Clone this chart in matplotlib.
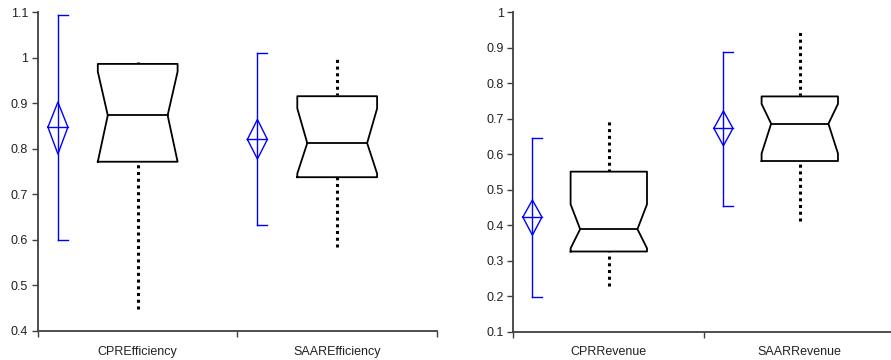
import matplotlib.pyplot as plt

plt.rcParams['font.family'] = ['Liberation Sans', 'DejaVu Sans']

# left panel: efficiency
eff_names = ["CPREfficiency", "SAAREfficiency"]
eff_mean = [0.848, 0.821]
eff_ci_lo = [0.789, 0.778]
eff_ci_hi = [0.903, 0.865]
eff_err_lo = [0.600, 0.632]
eff_err_hi = [1.095, 1.010]
eff_q1 = [0.772, 0.738]
eff_med = [0.874, 0.813]
eff_q3 = [0.987, 0.916]
eff_notch_lo = [0.772, 0.746]
eff_notch_hi = [0.970, 0.889]
eff_wlo = [0.448, 0.585]
eff_whi = [0.992, 1.000]

# right panel: revenue
rev_names = ["CPRRevenue", "SAARRevenue"]
rev_mean = [0.423, 0.673]
rev_ci_lo = [0.372, 0.624]
rev_ci_hi = [0.471, 0.722]
rev_err_lo = [0.198, 0.453]
rev_err_hi = [0.647, 0.888]
rev_q1 = [0.326, 0.581]
rev_med = [0.389, 0.686]
rev_q3 = [0.551, 0.763]
rev_notch_lo = [0.335, 0.602]
rev_notch_hi = [0.459, 0.742]
rev_wlo = [0.230, 0.413]
rev_whi = [0.700, 0.952]

BLUE = "#0000ff"
GRAY = "#404040"


def draw_panel(ax, names, mean, ci_lo, ci_hi, err_lo, err_hi,
               q1, med, q3, nlo, nhi, wlo, whi, ylim):
    for i in range(len(names)):
        c = i + 1
        # mean diamond with error bar
        dx = c - 0.4
        ax.plot([dx, dx], [err_lo[i], err_hi[i]], color=BLUE, lw=1)
        ax.plot([dx, dx + 0.05], [err_hi[i], err_hi[i]], color=BLUE, lw=1)
        ax.plot([dx, dx + 0.05], [err_lo[i], err_lo[i]], color=BLUE, lw=1)
        ax.plot([dx - 0.05, dx, dx + 0.05, dx, dx - 0.05],
                [mean[i], ci_hi[i], mean[i], ci_lo[i], mean[i]], color=BLUE, lw=1)
        ax.plot([dx - 0.05, dx + 0.05], [mean[i], mean[i]], color=BLUE, lw=1)

        # whiskers
        ax.plot([c, c], [q3[i], whi[i]], color="black", lw=2.2, ls=(0, (1, 1.2)))
        ax.plot([c, c], [wlo[i], q1[i]], color="black", lw=2.2, ls=(0, (1, 1.2)))

        # notched box
        hw = 0.2
        nw = 0.15
        xs = [c - hw, c + hw, c + hw, c + nw, c + hw, c + hw,
              c - hw, c - hw, c - nw, c - hw, c - hw]
        ys = [q1[i], q1[i], nlo[i], med[i], nhi[i], q3[i],
              q3[i], nhi[i], med[i], nlo[i], q1[i]]
        ax.fill(xs, ys, color="white", zorder=3)
        ax.plot(xs, ys, color="black", lw=1.3, zorder=4)
        ax.plot([c - nw, c + nw], [med[i], med[i]], color="black", lw=1.3, zorder=4)

    ax.set_xlim(0.5, len(names) + 0.5)
    ax.set_ylim(*ylim)
    ax.set_xticks([k + 0.5 for k in range(len(names) + 1)])
    ax.set_xticklabels([])
    ax.set_xticks(range(1, len(names) + 1), minor=True)
    ax.set_xticklabels(names, minor=True)
    ax.tick_params(axis="x", which="major", length=4, width=1, color=GRAY, direction="out")
    ax.tick_params(axis="x", which="minor", length=0, pad=10.5, labelsize=9, labelcolor="#222222")
    ax.tick_params(axis="y", length=4, width=1, color=GRAY, labelsize=9, pad=3, labelcolor="#222222")
    ax.yaxis.set_major_formatter(plt.FormatStrFormatter("%g"))
    for s in ["top", "right"]:
        ax.spines[s].set_visible(False)
    for s in ["left", "bottom"]:
        ax.spines[s].set_color(GRAY)
        ax.spines[s].set_linewidth(1.3)


fig = plt.figure(figsize=(8.91, 3.6), dpi=100)
ax1 = fig.add_axes([0.0426, 0.0806, 0.4478, 0.8847])
ax2 = fig.add_axes([0.5761, 0.0786, 0.4287, 0.8872])

draw_panel(ax1, eff_names, eff_mean, eff_ci_lo, eff_ci_hi, eff_err_lo, eff_err_hi,
           eff_q1, eff_med, eff_q3, eff_notch_lo, eff_notch_hi, eff_wlo, eff_whi, (0.4, 1.1))
ax1.set_yticks([0.4, 0.5, 0.6, 0.7, 0.8, 0.9, 1.0, 1.1])

draw_panel(ax2, rev_names, rev_mean, rev_ci_lo, rev_ci_hi, rev_err_lo, rev_err_hi,
           rev_q1, rev_med, rev_q3, rev_notch_lo, rev_notch_hi, rev_wlo, rev_whi, (0.1, 1.0))
ax2.set_yticks([0.1, 0.2, 0.3, 0.4, 0.5, 0.6, 0.7, 0.8, 0.9, 1.0])

fig.savefig("out.png", dpi=100)
